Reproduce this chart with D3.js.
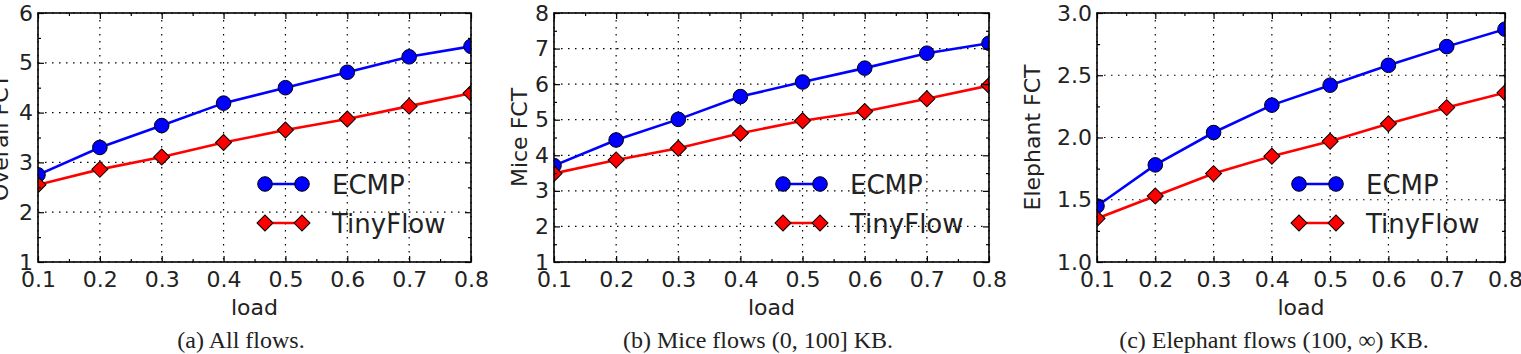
<!DOCTYPE html>
<html>
<head>
<meta charset="utf-8">
<script src="https://cdn.jsdelivr.net/npm/d3@7"></script>
<style>
  body { margin: 0; background: #fff; }
  svg { display: block; }
</style>
</head>
<body>
<div id="chart"></div>
<script>
// load values on the x axis
var loads = [0.1, 0.2, 0.3, 0.4, 0.5, 0.6, 0.7, 0.8];
var minorLoads = [0.15, 0.25, 0.35, 0.45, 0.55, 0.65, 0.75];

// (a) all flows
var allEcmp = [2.75, 3.30, 3.74, 4.19, 4.50, 4.81, 5.12, 5.33];
var allTiny = [2.55, 2.86, 3.11, 3.40, 3.65, 3.87, 4.13, 4.39];
var allTicks = [1, 2, 3, 4, 5, 6];
var allMinor = [1.5, 2.5, 3.5, 4.5, 5.5];

// (b) mice flows
var miceEcmp = [3.71, 4.43, 5.01, 5.65, 6.06, 6.45, 6.87, 7.15];
var miceTiny = [3.49, 3.87, 4.20, 4.62, 4.97, 5.23, 5.59, 5.96];
var miceTicks = [1, 2, 3, 4, 5, 6, 7, 8];
var miceMinor = [1.5, 2.5, 3.5, 4.5, 5.5, 6.5, 7.5];

// (c) elephant flows
var elephEcmp = [1.45, 1.78, 2.04, 2.26, 2.42, 2.58, 2.73, 2.87];
var elephTiny = [1.35, 1.53, 1.71, 1.85, 1.97, 2.11, 2.24, 2.36];
var elephTicks = [1.0, 1.5, 2.0, 2.5, 3.0];
var elephMinor = [1.25, 1.75, 2.25, 2.75];

var seriesNames = ["ECMP", "TinyFlow"];

var width = 1521, height = 354;
var plotTop = 13, plotBottom = 262;

var svg = d3.select("#chart").append("svg")
    .attr("width", width)
    .attr("height", height)
    .style("font-family", "'DejaVu Sans', sans-serif");

var panels = [
  {id: "a", left: 38, right: 471, ecmp: allEcmp, tiny: allTiny, ticks: allTicks, minor: allMinor,
   fmt: d3.format("d"), ylabel: "Overall FCT", ylabelX: 8, caption: "(a) All flows.", capX: 241},
  {id: "b", left: 554, right: 989, ecmp: miceEcmp, tiny: miceTiny, ticks: miceTicks, minor: miceMinor,
   fmt: d3.format("d"), ylabel: "Mice FCT", ylabelX: 527, caption: "(b) Mice flows (0, 100] KB.", capX: 758},
  {id: "c", left: 1097, right: 1505, ecmp: elephEcmp, tiny: elephTiny, ticks: elephTicks, minor: elephMinor,
   fmt: d3.format(".1f"), ylabel: "Elephant FCT", ylabelX: 1040, caption: "(c) Elephant flows (100, \u221E) KB.", capX: 1274}
];

var diamond = d3.symbol().type(d3.symbolSquare).size(128);

function drawMarkers(sel, pts, kind, color) {
  if (kind === "circle") {
    sel.selectAll("circle.m").data(pts).join("circle")
      .attr("class", "m")
      .attr("cx", d => d[0]).attr("cy", d => d[1])
      .attr("r", 7.3)
      .attr("fill", color).attr("stroke", "#000").attr("stroke-width", 1);
  } else {
    sel.selectAll("path.m").data(pts).join("path")
      .attr("class", "m")
      .attr("d", diamond)
      .attr("transform", d => "translate(" + d[0] + "," + d[1] + ") rotate(45)")
      .attr("fill", color).attr("stroke", "#000").attr("stroke-width", 1);
  }
}

panels.forEach(function(p) {
  var x = d3.scaleLinear().domain([0.1, 0.8]).range([p.left, p.right]);
  var y = d3.scaleLinear().domain([p.ticks[0], p.ticks[p.ticks.length - 1]]).range([plotBottom, plotTop]);
  var g = svg.append("g");

  g.append("clipPath").attr("id", "clip-" + p.id)
    .append("rect")
      .attr("x", p.left).attr("y", plotTop)
      .attr("width", p.right - p.left).attr("height", plotBottom - plotTop);

  // dotted grid
  var grid = g.append("g")
    .attr("stroke", "#000").attr("stroke-width", 1.2)
    .attr("stroke-dasharray", "1.5,5.5");
  grid.selectAll("line.v").data(loads).join("line")
    .attr("class", "v")
    .attr("x1", d => x(d)).attr("x2", d => x(d))
    .attr("y1", plotTop).attr("y2", plotBottom);
  grid.selectAll("line.h").data(p.ticks).join("line")
    .attr("class", "h")
    .attr("x1", p.left).attr("x2", p.right)
    .attr("y1", d => y(d)).attr("y2", d => y(d));

  // series
  var plot = g.append("g").attr("clip-path", "url(#clip-" + p.id + ")");
  var line = d3.line().x(d => d[0]).y(d => d[1]);
  var series = [
    {vals: p.ecmp, color: "#0000ff", kind: "circle"},
    {vals: p.tiny, color: "#ff0000", kind: "diamond"}
  ];
  series.forEach(function(s) {
    var pts = loads.map((l, i) => [x(l), y(s.vals[i])]);
    plot.append("path")
      .attr("d", line(pts))
      .attr("fill", "none").attr("stroke", s.color).attr("stroke-width", 2.6);
  });
  series.forEach(function(s) {
    var pts = loads.map((l, i) => [x(l), y(s.vals[i])]);
    drawMarkers(plot.append("g"), pts, s.kind, s.color);
  });

  // ticks, inward, on all four sides
  function tickAxis(axis, transform, vals, size, labels) {
    var a = axis.tickValues(vals).tickSize(-size);
    if (!labels) a.tickFormat("");
    var ag = g.append("g").attr("transform", transform).call(a);
    ag.select(".domain").remove();
    ag.selectAll("line").attr("stroke", "#000").attr("stroke-width", 1.2);
    return ag;
  }
  var xb = tickAxis(d3.axisBottom(x).tickFormat(d3.format(".1f")).tickPadding(9),
                    "translate(0," + plotBottom + ")", loads, 6, true);
  tickAxis(d3.axisBottom(x), "translate(0," + plotBottom + ")", minorLoads, 3, false);
  tickAxis(d3.axisTop(x), "translate(0," + plotTop + ")", loads, 6, false);
  tickAxis(d3.axisTop(x), "translate(0," + plotTop + ")", minorLoads, 3, false);
  var yl = tickAxis(d3.axisLeft(y).tickFormat(p.fmt).tickPadding(5),
                    "translate(" + p.left + ",0)", p.ticks, 6, true);
  tickAxis(d3.axisLeft(y), "translate(" + p.left + ",0)", p.minor, 3, false);
  tickAxis(d3.axisRight(y), "translate(" + p.right + ",0)", p.ticks, 6, false);
  tickAxis(d3.axisRight(y), "translate(" + p.right + ",0)", p.minor, 3, false);

  [xb, yl].forEach(function(a) {
    a.selectAll("text")
      .attr("fill", "#222")
      .style("font-family", "'DejaVu Sans', sans-serif")
      .style("font-size", "22px");
  });

  // frame
  g.append("rect")
    .attr("x", p.left).attr("y", plotTop)
    .attr("width", p.right - p.left).attr("height", plotBottom - plotTop)
    .attr("fill", "none").attr("stroke", "#000").attr("stroke-width", 1.6);

  // axis labels
  g.append("text")
    .attr("x", (p.left + p.right) / 2).attr("y", 315)
    .attr("text-anchor", "middle")
    .attr("fill", "#222")
    .style("font-size", "22px")
    .text("load");
  g.append("text")
    .attr("transform", "translate(" + p.ylabelX + "," + ((plotTop + plotBottom) / 2) + ") rotate(-90)")
    .attr("text-anchor", "middle")
    .attr("fill", "#222")
    .style("font-size", "22px")
    .text(p.ylabel);

  // legend
  var leg = g.append("g");
  series.forEach(function(s, i) {
    var ry = plotBottom - 78 + i * 39;
    var m1 = p.right - 206, m2 = p.right - 169;
    leg.append("line")
      .attr("x1", m1).attr("x2", m2).attr("y1", ry).attr("y2", ry)
      .attr("stroke", s.color).attr("stroke-width", 2.6);
    drawMarkers(leg.append("g"), [[m1, ry], [m2, ry]], s.kind, s.color);
    leg.append("text")
      .attr("x", p.right - 139).attr("y", ry + 10)
      .attr("fill", "#222")
      .style("font-size", "26px")
      .text(seriesNames[i]);
  });

  // caption
  svg.append("text")
    .attr("x", p.capX).attr("y", 348)
    .attr("text-anchor", "middle")
    .attr("fill", "#222")
    .style("font-family", "'Liberation Serif', 'Times New Roman', serif")
    .style("font-size", "24px")
    .text(p.caption);
});
</script>
</body>
</html>
